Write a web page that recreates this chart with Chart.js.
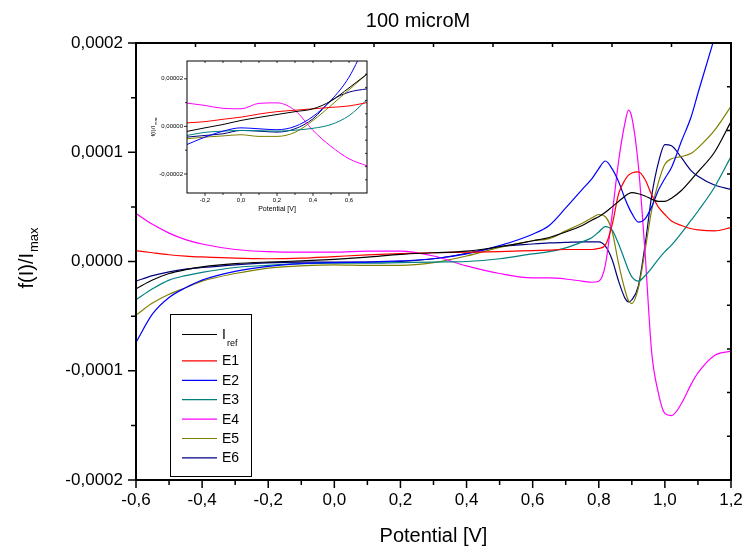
<!DOCTYPE html>
<html>
<head>
<meta charset="utf-8">
<script src="https://cdn.jsdelivr.net/npm/chart.js@4.4.1/dist/chart.umd.min.js"></script>
<style>
  body { margin: 0; background: #fff; }
  #wrap { position: relative; width: 743px; height: 546px; }
  #inset { position: absolute; left: 150px; top: 55px; }
</style>
</head>
<body>
<div id="wrap">
  <canvas id="main" width="743" height="546"></canvas>
  <canvas id="inset" width="225" height="165"></canvas>
</div>
<script>
Chart.defaults.font.family = '"Liberation Sans", Arial, sans-serif';
Chart.defaults.color = '#000';

// values in units of 1e-5 (f(I)/Imax)
var unit = 1e-5;
var potential = [-0.6, -0.55, -0.5, -0.45, -0.4, -0.3, -0.2, -0.1, 0, 0.1, 0.2, 0.3, 0.4, 0.5, 0.6,
  0.65, 0.7, 0.75, 0.78, 0.8, 0.82, 0.84, 0.86, 0.88, 0.89, 0.9, 0.92, 0.94, 0.96, 0.98, 1.0,
  1.02, 1.05, 1.08, 1.1, 1.15, 1.2];
var iRef = [-2.5, -1.7, -1.1, -0.75, -0.5, -0.2, -0.05, 0.05, 0.2, 0.4, 0.65, 0.8, 0.95, 1.35, 1.9,
  2.2, 2.7, 3.3, 3.8, 4.1, 4.5, 5.0, 5.5, 6.0, 6.2, 6.3, 6.2, 6.0, 5.7, 5.5, 5.5,
  5.8, 6.5, 7.5, 8.2, 10.0, 12.8];
var e1 = [1.0, 0.8, 0.62, 0.5, 0.42, 0.3, 0.25, 0.3, 0.45, 0.6, 0.72, 0.8, 0.85, 0.9, 1.0,
  1.05, 1.1, 1.1, 1.1, 1.2, 1.5, 3.3, 6.2, 7.5, 7.9, 8.1, 8.2, 7.5, 6.1, 5.0, 4.3,
  3.7, 3.3, 3.0, 2.9, 2.8, 3.1];
var e2 = [-7.4, -4.8, -3.3, -2.4, -1.7, -0.9, -0.45, -0.2, -0.1, -0.05, 0.05, 0.25, 0.7, 1.45, 2.5,
  3.3, 4.9, 6.6, 7.6, 8.5, 9.2, 8.5, 7.3, 5.7, 5.0, 4.4, 3.6, 3.9, 5.0, 6.5, 7.6,
  8.6, 11.0, 13.3, 15.4, 20.5, 26.0];
var e3 = [-3.5, -2.5, -1.7, -1.3, -1.0, -0.55, -0.35, -0.2, -0.15, -0.15, -0.1, -0.05, 0.0, 0.25, 0.7,
  0.9, 1.25, 1.8, 2.2, 2.7, 3.2, 2.9, 1.6, 0.0, -0.8, -1.4, -1.8, -1.3, -0.6, 0.2, 0.9,
  1.5, 2.6, 3.8, 4.6, 6.8, 9.6];
var e4 = [4.4, 3.4, 2.6, 2.0, 1.6, 1.1, 0.9, 0.85, 0.85, 0.95, 0.95, 0.5, -0.4, -1.1, -1.5,
  -1.5, -1.6, -1.8, -1.9, -1.8, -0.3, 4.2, 9.2, 12.8, 13.85, 13.2, 8.7, 0.8, -8.3, -12.0, -13.9,
  -14.1, -13.0, -11.2, -10.2, -8.6, -8.2];
var e5 = [-4.9, -3.8, -3.0, -2.4, -1.8, -1.1, -0.6, -0.4, -0.3, -0.35, -0.35, -0.1, 0.5, 1.3, 1.9,
  2.1, 2.8, 3.5, 4.0, 4.3, 4.1, 2.8, -0.2, -2.7, -3.6, -3.85, -2.4, 1.0, 4.7, 7.2, 8.9,
  9.4, 9.6, 9.9, 10.4, 12.0, 14.2];
var e6 = [-1.8, -1.3, -0.95, -0.7, -0.55, -0.3, -0.12, -0.05, -0.05, -0.05, 0.0, 0.25, 0.75, 1.35, 1.6,
  1.7, 1.75, 1.8, 1.8, 1.8, 1.4, 0.2, -1.8, -3.4, -3.7, -3.5, -2.2, 1.5, 6.0, 9.0, 10.7,
  10.6, 9.5, 8.3, 7.8, 7.0, 6.6];

var seriesNames = ['I_ref', 'E1', 'E2', 'E3', 'E4', 'E5', 'E6'];
var seriesColors = ['#000000', '#ff0000', '#0000ff', '#008080', '#ff00ff', '#808000', '#000080'];
var xTicks = [-0.6, -0.4, -0.2, 0, 0.2, 0.4, 0.6, 0.8, 1.0, 1.2];
var yTicks = [-0.0002, -0.0001, 0, 0.0001, 0.0002];

// inset (zoom of -0.3 .. 0.7 V)
var insetPotential = [-0.3, -0.2, -0.1, 0, 0.1, 0.2, 0.3, 0.4, 0.5, 0.6, 0.7];
var insetIref = [-0.21, -0.06, 0.08, 0.25, 0.38, 0.5, 0.62, 0.74, 1.07, 1.62, 2.2];
var insetE1 = [0.15, 0.2, 0.3, 0.39, 0.52, 0.62, 0.68, 0.74, 0.8, 0.86, 1.0];
var insetE2 = [-0.76, -0.45, -0.2, -0.06, -0.1, -0.14, 0.0, 0.42, 1.1, 2.07, 3.6];
var insetE3 = [-0.38, -0.25, -0.2, -0.17, -0.18, -0.2, -0.16, -0.08, 0.08, 0.45, 1.12];
var insetE4 = [0.98, 0.88, 0.76, 0.74, 0.97, 0.99, 0.67, -0.17, -0.84, -1.36, -1.66];
var insetE5 = [-0.52, -0.45, -0.4, -0.35, -0.42, -0.42, -0.25, 0.25, 0.88, 1.54, 2.2];
var insetE6 = [-0.45, -0.38, -0.31, -0.17, -0.2, -0.24, -0.1, 0.32, 1.08, 1.44, 1.58];
var insetXTicks = [-0.2, 0, 0.2, 0.4, 0.6];
var insetYTicks = [-0.00002, 0, 0.00002];

function toPoints(xv, yv) {
  return xv.map(function (x, i) { return { x: x, y: yv[i] * unit }; });
}

function makeDatasets(xv, list, width) {
  return list.map(function (yv, i) {
    return {
      label: seriesNames[i],
      data: toPoints(xv, yv),
      borderColor: seriesColors[i],
      borderWidth: width,
      pointRadius: 0,
      fill: false,
      cubicInterpolationMode: 'monotone'
    };
  });
}

// draws "A_sub" with a subscript
function drawSub(ctx, text, x, y, size, subSize, drop) {
  var parts = text.split('_');
  ctx.font = size + 'px "Liberation Sans", Arial, sans-serif';
  ctx.fillText(parts[0], x, y);
  var w = ctx.measureText(parts[0]).width;
  if (parts[1]) {
    ctx.font = subSize + 'px "Liberation Sans", Arial, sans-serif';
    ctx.fillText(parts[1], x + w + 1, y + drop);
    w += 1 + ctx.measureText(parts[1]).width;
  }
  return w;
}

function measureSub(ctx, text, size, subSize) {
  var parts = text.split('_');
  ctx.font = size + 'px "Liberation Sans", Arial, sans-serif';
  var w = ctx.measureText(parts[0]).width;
  if (parts[1]) {
    ctx.font = subSize + 'px "Liberation Sans", Arial, sans-serif';
    w += 1 + ctx.measureText(parts[1]).width;
  }
  return w;
}

var framePlugin = {
  id: 'frame',
  afterDatasetsDraw: function (chart, args, o) {
    var ctx = chart.ctx, a = chart.chartArea;
    var sx = chart.scales.x, sy = chart.scales.y;
    var xt = sx.ticks.map(function (t) { return t.value; });
    var yt = sy.ticks.map(function (t) { return t.value; });
    ctx.save();
    ctx.strokeStyle = '#000';
    ctx.lineWidth = o.tickWidth;
    ctx.beginPath();
    xt.forEach(function (v, i) {
      var p = sx.getPixelForValue(v);
      ctx.moveTo(p, a.bottom); ctx.lineTo(p, a.bottom + o.major);
      if (i < xt.length - 1) {
        var m = sx.getPixelForValue((v + xt[i + 1]) / 2);
        ctx.moveTo(m, a.bottom); ctx.lineTo(m, a.bottom + o.minor);
      }
    });
    yt.forEach(function (v, i) {
      var p = sy.getPixelForValue(v);
      ctx.moveTo(a.left, p); ctx.lineTo(a.left - o.major, p);
      if (i < yt.length - 1) {
        var m = sy.getPixelForValue((v + yt[i + 1]) / 2);
        ctx.moveTo(a.left, m); ctx.lineTo(a.left - o.minor, m);
      }
    });
    for (var k = 1; k < o.divisions; k++) {
      var tx = a.left + (a.right - a.left) * k / o.divisions;
      ctx.moveTo(tx, a.top); ctx.lineTo(tx, a.top + o.inner);
      var ty = a.top + (a.bottom - a.top) * k / o.divisions;
      ctx.moveTo(a.right, ty); ctx.lineTo(a.right - o.inner, ty);
    }
    ctx.stroke();
    ctx.lineWidth = o.frameWidth;
    ctx.strokeRect(a.left, a.top, a.right - a.left, a.bottom - a.top);
    ctx.restore();
  }
};

var annotPlugin = {
  id: 'annot',
  afterDraw: function (chart, args, o) {
    var ctx = chart.ctx;
    ctx.save();
    ctx.fillStyle = '#000';
    ctx.textBaseline = 'alphabetic';
    if (o.title) {
      ctx.font = o.title.size + 'px "Liberation Sans", Arial, sans-serif';
      ctx.textAlign = 'center';
      ctx.fillText(o.title.text, o.title.x, o.title.y);
      ctx.textAlign = 'left';
    }
    if (o.yTitle) {
      var t = o.yTitle;
      var w = measureSub(ctx, t.text, t.size, t.subSize);
      ctx.save();
      ctx.translate(t.x, t.y);
      ctx.rotate(-Math.PI / 2);
      drawSub(ctx, t.text, -w / 2, 0, t.size, t.subSize, t.drop);
      ctx.restore();
    }
    if (o.legend) {
      var L = o.legend;
      ctx.strokeStyle = '#000';
      ctx.lineWidth = 1;
      ctx.strokeRect(L.left + 0.5, L.top + 0.5, L.width, L.height);
      chart.data.datasets.forEach(function (ds, i) {
        var y = L.top + L.first + i * L.row + (i > 0 ? L.extra : 0);
        ctx.strokeStyle = ds.borderColor;
        ctx.lineWidth = 1.2;
        ctx.beginPath();
        ctx.moveTo(L.left + L.lineStart, y + 0.5);
        ctx.lineTo(L.left + L.lineEnd, y + 0.5);
        ctx.stroke();
        drawSub(ctx, ds.label, L.left + L.textX, y + L.base, L.size, L.subSize, L.drop);
      });
    }
    ctx.restore();
  }
};

new Chart(document.getElementById('main'), {
  type: 'line',
  data: {
    datasets: makeDatasets(potential, [iRef, e1, e2, e3, e4, e5, e6], 1.2)
  },
  plugins: [framePlugin, annotPlugin],
  options: {
    responsive: false,
    animation: false,
    devicePixelRatio: 1,
    layout: { padding: { top: 43, right: 12, left: 0, bottom: 0 } },
    plugins: {
      legend: { display: false },
      tooltip: { enabled: false },
      frame: { tickWidth: 1.5, major: 8, minor: 5, inner: 4, divisions: 10, frameWidth: 2 },
      annot: {
        title: { text: '100 microM', x: 418, y: 27, size: 20 },
        yTitle: { text: 'f(I)/I_max', x: 33, y: 258, size: 20, subSize: 13, drop: 5 },
        legend: { left: 170, top: 314, width: 81, height: 162, first: 20, row: 19.4, extra: 7,
          lineStart: 12, lineEnd: 47, textX: 52, base: 5, size: 14, subSize: 9, drop: 7 }
      }
    },
    scales: {
      x: {
        type: 'linear',
        min: -0.6,
        max: 1.2,
        afterBuildTicks: function (s) { s.ticks = xTicks.map(function (v) { return { value: v }; }); },
        afterFit: function (s) { s.height = 66; s.paddingLeft = 0; s.paddingRight = 0; },
        grid: { display: false, drawTicks: false },
        border: { display: false },
        ticks: {
          autoSkip: false,
          maxRotation: 0,
          padding: 10,
          font: { size: 17 },
          callback: function (v) { return v.toFixed(1).replace('.', ','); }
        },
        title: {
          display: true,
          text: 'Potential [V]',
          font: { size: 20, lineHeight: 1 },
          padding: { top: 0, bottom: 0 }
        }
      },
      y: {
        type: 'linear',
        min: -0.0002,
        max: 0.0002,
        afterBuildTicks: function (s) { s.ticks = yTicks.map(function (v) { return { value: v }; }); },
        afterFit: function (s) { s.width = 136; s.paddingTop = 0; s.paddingBottom = 0; },
        grid: { display: false, drawTicks: false },
        border: { display: false },
        ticks: {
          padding: 13,
          font: { size: 17 },
          callback: function (v) { return v.toFixed(4).replace('.', ','); }
        }
      }
    }
  }
});

new Chart(document.getElementById('inset'), {
  type: 'line',
  data: {
    datasets: makeDatasets(insetPotential, [insetIref, insetE1, insetE2, insetE3, insetE4, insetE5, insetE6], 1)
  },
  plugins: [framePlugin, annotPlugin],
  options: {
    responsive: false,
    animation: false,
    devicePixelRatio: 1,
    layout: { padding: { top: 6, right: 8, left: 0, bottom: 0 } },
    plugins: {
      legend: { display: false },
      tooltip: { enabled: false },
      frame: { tickWidth: 0.8, major: 3, minor: 2, inner: 2, divisions: 10, frameWidth: 1 },
      annot: {
        yTitle: { text: 'f(I)/I_max', x: 5, y: 72, size: 6, subSize: 4, drop: 2 }
      }
    },
    scales: {
      x: {
        type: 'linear',
        min: -0.3,
        max: 0.7,
        afterBuildTicks: function (s) { s.ticks = insetXTicks.map(function (v) { return { value: v }; }); },
        afterFit: function (s) { s.height = 27; s.paddingLeft = 0; s.paddingRight = 0; },
        grid: { display: false, drawTicks: false },
        border: { display: false },
        ticks: {
          autoSkip: false,
          maxRotation: 0,
          padding: 4,
          font: { size: 6 },
          callback: function (v) { return v.toFixed(1).replace('.', ','); }
        },
        title: {
          display: true,
          text: 'Potential [V]',
          font: { size: 7 },
          padding: { top: 0, bottom: 7 }
        }
      },
      y: {
        type: 'linear',
        min: -0.000028,
        max: 0.0000275,
        afterBuildTicks: function (s) { s.ticks = insetYTicks.map(function (v) { return { value: v }; }); },
        afterFit: function (s) { s.width = 37; s.paddingTop = 0; s.paddingBottom = 0; },
        grid: { display: false, drawTicks: false },
        border: { display: false },
        ticks: {
          padding: 4,
          font: { size: 6 },
          callback: function (v) { return v.toFixed(5).replace('.', ','); }
        }
      }
    }
  }
});
</script>
</body>
</html>
